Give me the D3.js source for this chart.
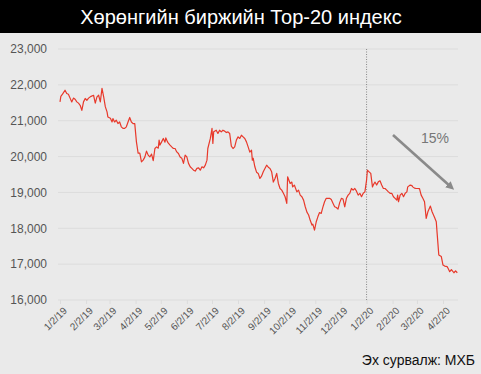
<!DOCTYPE html>
<html><head><meta charset="utf-8">
<script src="https://cdn.jsdelivr.net/npm/d3@7"></script>
<style>
html,body{margin:0;padding:0;background:#eaeaea;}
svg{display:block;font-family:"Liberation Sans",Arial,sans-serif;}
</style></head>
<body>
<script>
const title = "Хөрөнгийн биржийн Тор-20 индекс";
const source = "Эх сурвалж: МХБ";
const annotation = "15%";
const startDate = "2019-01-02";
const markerDate = "1/2/20";
const tickLabels = ["1/2/19","2/2/19","3/2/19","4/2/19","5/2/19","6/2/19","7/2/19","8/2/19","9/2/19","10/2/19","11/2/19","12/2/19","1/2/20","2/2/20","3/2/20","4/2/20"];
const yTicks = [16000,17000,18000,19000,20000,21000,22000,23000];
// days since 2019-01-02
const dayOffsets = [0,1,3,6,8,10,12,14,16,18,20,22,24,26,28,30,32,34,37,40,42,44,46,48,50,52,54,56,57,60,62,63,65,67,69,71,73,75,77,79,81,83,85,87,89,91,93,95,97,99,101,103,105,107,109,111,113,115,117,118,119,121,123,125,126,128,129,131,133,135,137,139,141,143,145,147,149,151,153,155,157,159,161,163,165,167,169,171,173,175,176,179,181,182,183,186,188,190,192,194,196,198,200,202,204,206,208,210,212,214,216,218,220,222,224,226,228,229,230,232,234,236,238,240,242,244,246,248,250,252,254,256,258,260,262,264,266,268,270,271,274,276,277,279,282,284,286,288,290,292,294,296,298,300,301,303,305,307,309,311,313,315,317,319,321,323,325,327,329,331,333,335,337,339,341,343,345,347,349,351,353,355,357,359,361,363,365,366,368,370,372,373,375,377,379,381,383,385,387,389,391,393,395,397,399,401,402,403,405,407,409,411,413,414,417,419,420,422,424,426,428,430,432,434,436,438,441,443,446,448,449,451,454,456,458,461,462,464,466,469,471,473];
const indexValues = [21525,21680,21740,21850,21760,21740,21630,21525,21630,21600,21525,21490,21430,21290,21525,21620,21570,21630,21680,21710,21490,21665,21710,21525,21900,21665,21385,21245,21105,21070,20965,21060,20965,21015,20920,20965,20830,20785,20785,20830,20965,21090,20965,20920,20920,20410,20095,20095,19853,19900,19985,20150,20040,19990,20070,19885,20225,20270,20235,20460,20320,20410,20505,20400,20520,20410,20375,20320,20270,20225,20225,20130,20085,19990,19955,19810,20040,19990,19810,19715,19670,19620,19595,19670,19685,19620,19715,19685,19760,19900,20225,20505,20785,20365,20690,20735,20645,20735,20690,20735,20710,20670,20690,20645,20290,20225,20270,20460,20550,20505,20595,20550,20505,20410,20270,20125,20180,19900,19955,19715,19565,19530,19390,19455,19575,19670,19760,19705,19670,19575,19290,19390,19530,19250,19110,19065,18975,18880,18695,19435,19250,19290,19155,19205,19015,19065,18925,18880,18785,18600,18450,18370,18215,18090,18115,17950,18175,18320,18440,18415,18590,18740,18835,18835,18835,18800,18700,18600,18580,18535,18715,18835,18815,18600,18835,18925,18975,19110,19065,19110,19035,18925,18975,18880,18975,19015,19345,19620,19575,19530,19155,19205,19290,19205,19295,19325,19205,19110,19110,19065,19015,18975,18975,18880,18835,18785,18925,18740,18925,18975,18880,18975,19015,19155,19205,19190,19155,19120,19110,19110,19105,18925,18835,18740,18275,18460,18620,18460,18300,18180,17865,17255,17210,16975,16945,16930,16885,16790,16850,16760,16815,16760];

const W = 481, H = 374;
const svg = d3.select("body").append("svg").attr("width", W).attr("height", H);
svg.append("rect").attr("width", W).attr("height", H).attr("fill", "#eaeaea");
svg.append("rect").attr("width", W).attr("height", 33).attr("fill", "#000");
svg.append("text").attr("x", 241).attr("y", 24).attr("text-anchor", "middle")
  .attr("fill", "#fff").attr("font-size", 20).text(title);

const parseTick = d3.timeParse("%-m/%-d/%y");
const start = d3.timeParse("%Y-%m-%d")(startDate);
const data = dayOffsets.map((d, i) => ({date: d3.timeDay.offset(start, d), value: indexValues[i]}));
const tickDates = tickLabels.map(parseTick);

const x = d3.scaleTime().domain([start, tickDates[tickDates.length - 1]]).range([60, 443]);
const y = d3.scaleLinear().domain([16000, 23000]).range([300, 49]);
const plotLeft = 58, plotRight = 458;

// gridlines
svg.append("g").selectAll("line").data(yTicks).join("line")
  .attr("x1", plotLeft).attr("x2", plotRight)
  .attr("y1", d => y(d)).attr("y2", d => y(d))
  .attr("stroke", "#dcdcdc").attr("stroke-width", 1);

// y axis
const yAxis = svg.append("g").attr("transform", `translate(${plotLeft},0)`)
  .call(d3.axisLeft(y).tickValues(yTicks).tickFormat(d3.format(",")).tickSize(0).tickPadding(11));
yAxis.select(".domain").remove();
yAxis.selectAll("text").attr("font-size", 12).attr("fill", "#555").attr("font-family", "Liberation Sans, Arial, sans-serif");

// x axis
const xAxis = svg.append("g").attr("transform", `translate(0,${y(16000)})`)
  .call(d3.axisBottom(x).tickValues(tickDates).tickFormat((d, i) => tickLabels[i]).tickSize(4));
xAxis.select(".domain").remove();
xAxis.selectAll(".tick line").attr("stroke", "#dcdcdc");
xAxis.selectAll("text").attr("font-size", 10).attr("fill", "#555")
  .attr("font-family", "Liberation Sans, Arial, sans-serif")
  .attr("text-anchor", "end").attr("transform", "rotate(-45)")
  .attr("dx", "-0.3em").attr("dy", "0.6em");

// dotted marker line
const mx = x(parseTick(markerDate));
svg.append("line").attr("x1", mx).attr("x2", mx).attr("y1", y(23000)).attr("y2", y(16000))
  .attr("stroke", "#888").attr("stroke-width", 1).attr("stroke-dasharray", "1,1.5");

// data line
svg.append("path").datum(data)
  .attr("fill", "none").attr("stroke", "#e8392b").attr("stroke-width", 1.2)
  .attr("stroke-linejoin", "round")
  .attr("d", d3.line().x(d => x(d.date)).y(d => y(d.value)));

// arrow annotation
const defs = svg.append("defs");
defs.append("marker").attr("id", "ah").attr("viewBox", "0 0 10 10").attr("refX", 5).attr("refY", 5)
  .attr("markerWidth", 3.2).attr("markerHeight", 3.2).attr("orient", "auto")
  .append("path").attr("d", "M0,0 L10,5 L0,10 z").attr("fill", "#8a8a8a");
svg.append("line").attr("x1", 393).attr("y1", 135).attr("x2", 451).attr("y2", 187)
  .attr("stroke", "#8a8a8a").attr("stroke-width", 2.6).attr("marker-end", "url(#ah)");
svg.append("text").attr("x", 435).attr("y", 143).attr("text-anchor", "middle")
  .attr("font-size", 14).attr("fill", "#777").text(annotation);

// source
svg.append("text").attr("x", 475).attr("y", 365).attr("text-anchor", "end")
  .attr("font-size", 14).attr("fill", "#111").text(source);
</script>
</body></html>
